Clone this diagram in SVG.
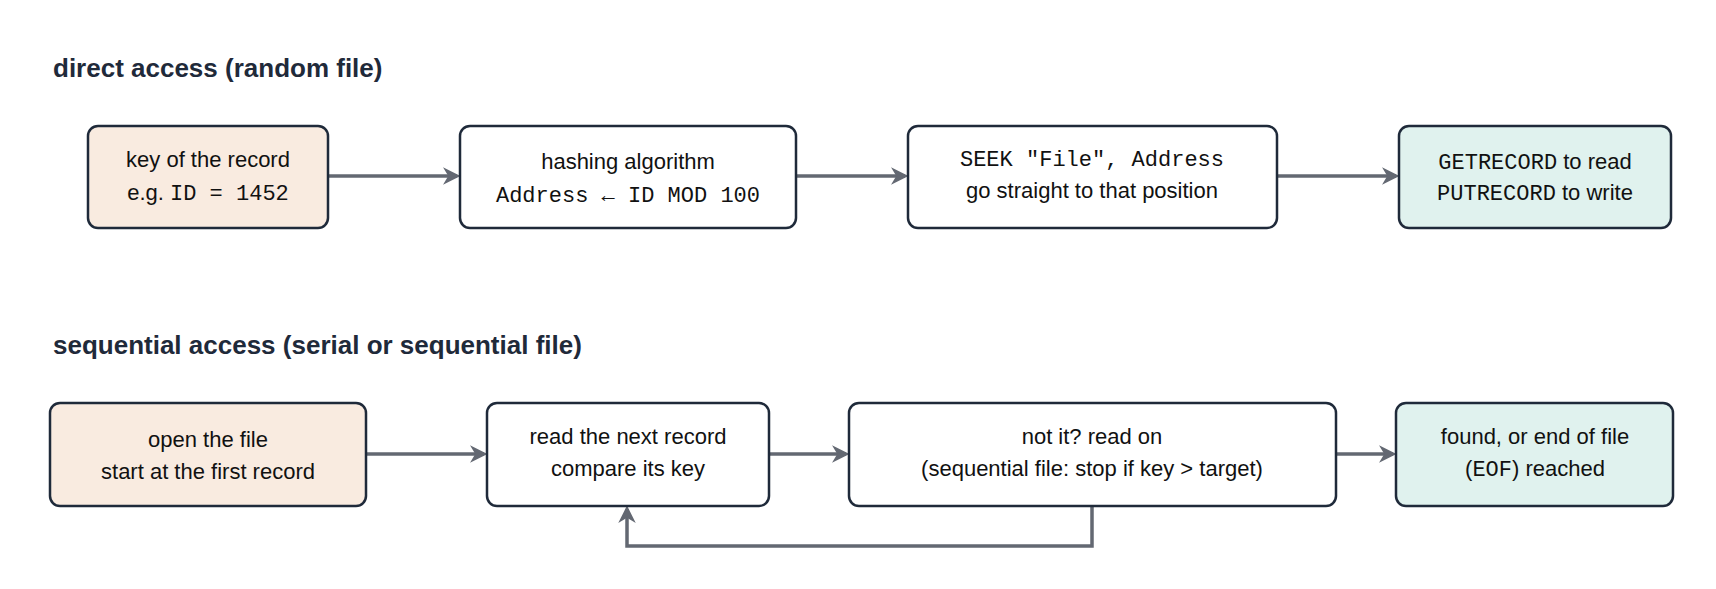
<svg xmlns="http://www.w3.org/2000/svg" width="1716" height="589" viewBox="0 0 1716 589">
<style>
.h{font-family:"Liberation Sans",Arial,sans-serif;font-weight:bold;font-size:26px;fill:#1f2a3a}
.n rect{stroke:#1f2a3a;stroke-width:2.5}
.t{font-family:"Liberation Sans",Arial,sans-serif;font-size:22px;fill:#111;text-anchor:middle}
.m{font-family:"Liberation Mono","Courier New",monospace;font-size:22px}
.c{stroke:#636872;stroke-width:3.5;fill:none}
</style>
<defs><marker id="a" viewBox="0 0 10 10" refX="8" refY="5" markerWidth="5" markerHeight="5" orient="auto"><path d="M0,0 L10,5 L0,10 L3,5 Z" fill="#636872"/></marker></defs>
<rect width="1716" height="589" fill="#fff"/>
<text class="h" x="53" y="77">direct access (random file)</text>
<text class="h" x="53" y="354">sequential access (serial or sequential file)</text>
<g id="connectors">
<line class="c" x1="328" y1="176" x2="457" y2="176" marker-end="url(#a)"/>
<line class="c" x1="796" y1="176" x2="905" y2="176" marker-end="url(#a)"/>
<line class="c" x1="1277" y1="176" x2="1396" y2="176" marker-end="url(#a)"/>
<line class="c" x1="366" y1="454" x2="484" y2="454" marker-end="url(#a)"/>
<line class="c" x1="769" y1="454" x2="846" y2="454" marker-end="url(#a)"/>
<line class="c" x1="1336" y1="454" x2="1393" y2="454" marker-end="url(#a)"/>
<polyline class="c" points="1092,506 1092,546 627,546 627,509" marker-end="url(#a)"/>
</g>
<g id="n1" class="n"><rect x="88" y="126" width="240" height="102" rx="10" fill="#f9ebe0"/>
<text class="t" x="208" y="167">key of the record</text><text class="t" x="208" y="200">e.g. <tspan class="m">ID = 1452</tspan></text></g>
<g id="n2" class="n"><rect x="460" y="126" width="336" height="102" rx="10" fill="#fff"/>
<text class="t" x="628" y="169">hashing algorithm</text><text class="t m" x="628" y="202">Address ← ID MOD 100</text></g>
<g id="n3" class="n"><rect x="908" y="126" width="369" height="102" rx="10" fill="#fff"/>
<text class="t m" x="1092" y="166">SEEK "File", Address</text><text class="t" x="1092" y="198">go straight to that position</text></g>
<g id="n4" class="n"><rect x="1399" y="126" width="272" height="102" rx="10" fill="#e0f2ee"/>
<text class="t" x="1535" y="169"><tspan class="m">GETRECORD</tspan> to read</text><text class="t" x="1535" y="200"><tspan class="m">PUTRECORD</tspan> to write</text></g>
<g id="s1" class="n"><rect x="50" y="403" width="316" height="103" rx="10" fill="#f9ebe0"/>
<text class="t" x="208" y="447">open the file</text><text class="t" x="208" y="479">start at the first record</text></g>
<g id="s2" class="n"><rect x="487" y="403" width="282" height="103" rx="10" fill="#fff"/>
<text class="t" x="628" y="444">read the next record</text><text class="t" x="628" y="476">compare its key</text></g>
<g id="s3" class="n"><rect x="849" y="403" width="487" height="103" rx="10" fill="#fff"/>
<text class="t" x="1092" y="444">not it? read on</text><text class="t" x="1092" y="476">(sequential file: stop if key &gt; target)</text></g>
<g id="s4" class="n"><rect x="1396" y="403" width="277" height="103" rx="10" fill="#e0f2ee"/>
<text class="t" x="1535" y="444">found, or end of file</text><text class="t" x="1535" y="476">(<tspan class="m">EOF</tspan>) reached</text></g>
</svg>
